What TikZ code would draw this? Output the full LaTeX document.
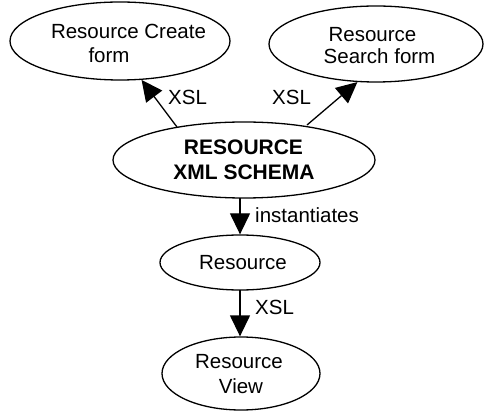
\documentclass[tikz,border=0pt]{standalone}
\usepackage{fontspec}
\setmainfont{Liberation Sans}
\usetikzlibrary{shapes.geometric,arrows.meta}
\begin{document}
\begin{tikzpicture}[x=1pt,y=-1pt,
  blob/.style={draw,ellipse,line width=1.3pt,inner sep=0pt},
  txt/.style={font=\fontsize{20.5}{25}\selectfont,inner sep=0pt,anchor=base},
  bold/.style={txt,font=\fontsize{21}{25}\selectfont\bfseries},
  link/.style={line width=1.3pt,-{Triangle[length=21pt,width=20pt]}},
  lbl/.style={font=\fontsize{20.5}{25}\selectfont,inner sep=0pt,anchor=base west}]
\useasboundingbox (0,0) rectangle (484,411);
% the five ellipses
\node[blob,minimum width=220pt,minimum height=78pt] (create) at (120,41) {};
\node[blob,minimum width=214pt,minimum height=76pt] (search) at (376,44) {};
\node[blob,minimum width=262pt,minimum height=76pt] (schema) at (244,160) {};
\node[blob,minimum width=160pt,minimum height=55pt] (res) at (240,262.5) {};
\node[blob,minimum width=158pt,minimum height=73pt] (view) at (241,373.5) {};
% their texts, line by line
\node[txt] (create1) at (128.5,39) {Resource Create};
\node[txt] (create2) at (109,63) {form};
\node[txt] (search1) at (372.5,42) {Resource};
\node[txt] (search2) at (379.5,64) {Search form};
\node[bold] (schema1) at (243.5,155) {RESOURCE};
\node[bold] (schema2) at (244,180) {XML SCHEMA};
\node[txt] (res1) at (243,270) {Resource};
\node[txt] (view1) at (239,368) {Resource};
\node[txt] (view2) at (241,393) {View};
% where the connectors leave the ellipses
\coordinate (t1) at (177,127);
\coordinate (t2) at (307,125);
\coordinate (c1) at (240,198);
\coordinate (c2) at (240,290);
% connectors
\draw[link] (t1) -- (create.-61);
\draw[link] (t2) -- (search.-116);
\draw[link] (c1) -- (c1 |- res.north);
\draw[link] (c2) -- (c2 |- view.north);
% connector labels
\node[lbl] (l1) at (168,105) {XSL};
\node[lbl] (l2) at (272,105) {XSL};
\node[lbl] (l3) at (255,223) {instantiates};
\node[lbl] (l4) at (255,315) {XSL};
\end{tikzpicture}
\end{document}
